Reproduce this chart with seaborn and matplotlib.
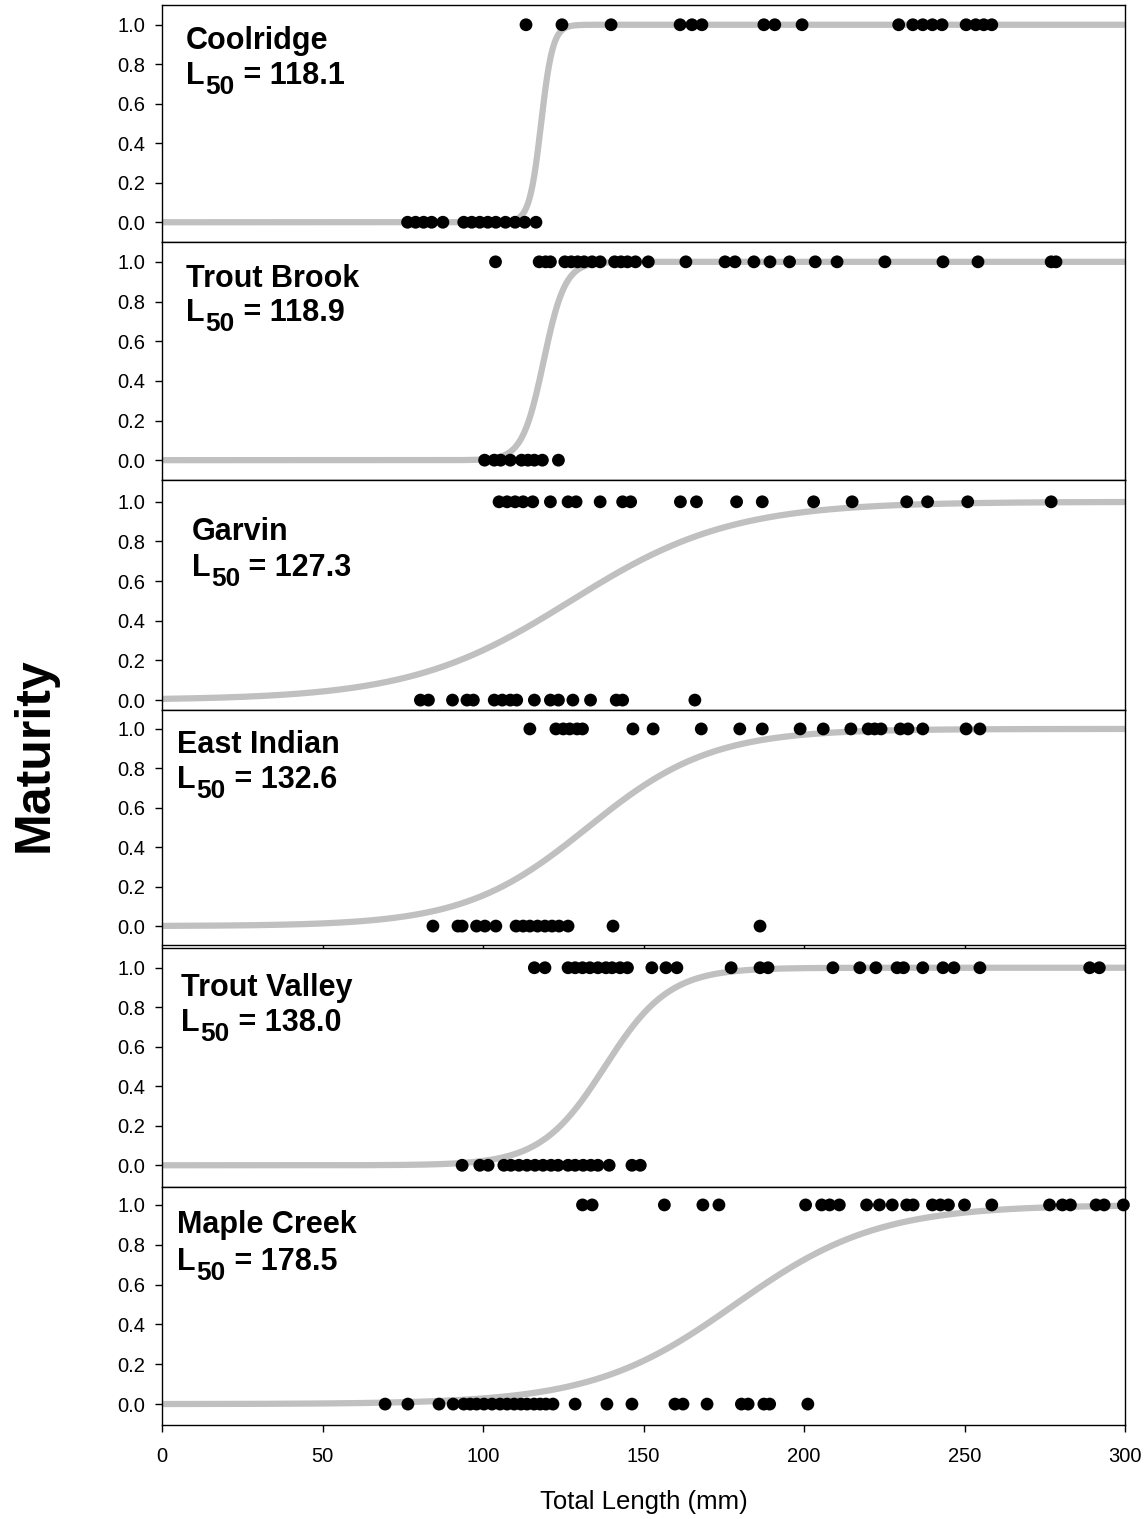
import numpy as np
import pandas as pd
import matplotlib
matplotlib.use("Agg")
import matplotlib.pyplot as plt
import seaborn as sns

# sites, fitted L50 and slope of the logistic maturity curve
SITES = ["Coolridge", "Trout Brook", "Garvin", "East Indian", "Trout Valley", "Maple Creek"]
L50 = [118.1, 118.9, 127.3, 132.6, 138.0, 178.5]
SLOPE = [0.55, 0.30, 0.040, 0.052, 0.100, 0.045]

# observed lengths (mm) of immature (0) and mature (1) fish
coolridge_0 = [76.5, 79, 81.5, 84, 87.5, 94, 96.5, 99, 101.5, 104, 107, 110, 113, 116.5]
coolridge_1 = [113.4, 124.6, 139.9, 161.4, 165.1, 168.2, 187.5, 190.9, 199.4,
               229.5, 233.9, 237, 240, 243, 250.5, 253.5, 256, 258.5]
troutbrook_0 = [100.5, 103.5, 105.5, 108.5, 112, 114, 116, 118.5, 123.5]
troutbrook_1 = [103.9, 117.5, 119.5, 121, 125.5, 127.5, 129.5, 131.5, 134, 136.5,
                141, 143, 145, 147.5, 151.5, 163.2, 175.4, 178.5, 184.4, 189.4,
                195.5, 203.5, 210.3, 225.2, 243.3, 254.2, 277, 278.5]
garvin_0 = [80.5, 83, 90.5, 95, 97, 103.5, 106, 108.5, 110.5, 116, 121, 123.5,
            128, 133.5, 141.5, 143.5, 166]
garvin_1 = [105, 107.5, 110, 112.5, 115.5, 121, 126.5, 129, 136.5, 143.5, 146,
            161.5, 166.5, 179, 187, 203, 215, 232, 238.5, 251, 277]
eastindian_0 = [84.4, 92.2, 93.5, 98, 100.6, 104, 110.3, 112.5, 114.6, 117, 119.3,
                121.5, 123.7, 126.5, 140.5, 186.3]
eastindian_1 = [114.6, 122.7, 125, 127, 129.3, 131, 146.7, 153, 168, 180, 187,
                198.8, 206, 214.6, 220, 222, 224, 230, 232.4, 237, 250.5, 254.8]
troutvalley_0 = [93.5, 99, 101.6, 106.5, 108.7, 111.2, 113.7, 116.2, 118.7, 121.2,
                 123.4, 126.5, 128.7, 131.2, 133.6, 135.8, 139.3, 146.4, 149]
troutvalley_1 = [116, 119.3, 126.5, 128.7, 131, 133.3, 135.8, 138.3, 140.2, 142.7,
                 145, 152.6, 157, 160.4, 177.3, 186.3, 188.8, 209, 217.4, 222.4,
                 229, 231, 237, 243.3, 246.7, 254.8, 289, 292]
maplecreek_0 = [69.5, 76.6, 86.3, 90.7, 94, 96, 98, 100.3, 102.8, 105.3, 107.5,
                109.7, 111.8, 113.7, 115.9, 117.8, 119.6, 121.8, 128.7, 138.6,
                146.4, 159.8, 162.3, 169.8, 180.5, 182.6, 187.5, 189.3, 201.2]
maplecreek_1 = [131, 134, 156.5, 168.5, 173.5, 200.5, 205.5, 208, 211, 219.5, 223.5,
                227.5, 232, 234, 240, 242.5, 245, 250, 258.5, 276.5, 280.5, 283,
                291, 293.5, 299.5]

IMMATURE = [coolridge_0, troutbrook_0, garvin_0, eastindian_0, troutvalley_0, maplecreek_0]
MATURE = [coolridge_1, troutbrook_1, garvin_1, eastindian_1, troutvalley_1, maplecreek_1]

Y_TICKS = [0.0, 0.2, 0.4, 0.6, 0.8, 1.0]
X_TICKS = [0, 50, 100, 150, 200, 250, 300]

W, H = 1147, 1519
TOPS = [5, 242, 480, 710, 948, 1187]
BOTS = [242, 480, 710, 945, 1187, 1425]
YLIMS = [(-0.1, 1.1), (-0.1, 1.1), (-0.05, 1.11), (-0.096, 1.096), (-0.11, 1.1), (-0.105, 1.09)]
# x, centre of site name, bottom of the "L50" line (data units)
LABEL_POS = [(7.5, 0.92, 0.665), (7.5, 0.912, 0.667), (9.3, 0.85, 0.59),
             (4.7, 0.92, 0.665), (5.9, 0.90, 0.645), (4.7, 0.90, 0.638)]

sns.set_style("ticks")
plt.rcParams["font.family"] = ["Liberation Sans", "DejaVu Sans"]
for key in ["text.color", "axes.labelcolor", "xtick.color", "ytick.color", "axes.edgecolor"]:
    plt.rcParams[key] = "black"

fig = plt.figure(figsize=(W / 100, H / 100), dpi=100)
x0, x1 = 162 / W, 1125 / W
xs = np.linspace(0, 300, 601)
LBL = 22

for i, site in enumerate(SITES):
    ax = fig.add_axes([x0, 1 - BOTS[i] / H, x1 - x0, (BOTS[i] - TOPS[i]) / H])
    curve = pd.DataFrame({"x": xs, "p": 1 / (1 + np.exp(-SLOPE[i] * (xs - L50[i])))})
    sns.lineplot(data=curve, x="x", y="p", color="#c0c0c0", lw=4.5, ax=ax, zorder=1)
    pts = pd.DataFrame({"x": IMMATURE[i] + MATURE[i],
                        "y": [0.0] * len(IMMATURE[i]) + [1.0] * len(MATURE[i])})
    sns.scatterplot(data=pts, x="x", y="y", color="black", s=85, edgecolor="none",
                    ax=ax, zorder=3, clip_on=False)
    ax.set_xlim(0, 300)
    ax.set_ylim(*YLIMS[i])
    ax.set_yticks(Y_TICKS)
    ax.set_yticklabels([f"{t:.1f}" for t in Y_TICKS], fontsize=14.5)
    ax.set_xticks(X_TICKS)
    ax.set_xlabel("")
    ax.set_ylabel("")
    ax.tick_params(axis="y", direction="out", length=5, width=1, pad=7)
    if i == len(SITES) - 1:
        ax.set_xticklabels([str(t) for t in X_TICKS], fontsize=14.5)
        ax.tick_params(axis="x", direction="out", length=5, width=1, pad=11)
    elif i == 3:
        ax.tick_params(axis="x", direction="out", length=2.5, width=1, labelbottom=False)
    else:
        ax.tick_params(axis="x", length=0, labelbottom=False)
    for sp in ax.spines.values():
        sp.set_visible(True)
        sp.set_linewidth(1)
        sp.set_color("black")
    tx, ty1, ty2 = LABEL_POS[i]
    ax.text(tx, ty1, site, fontsize=LBL, fontweight="bold", va="center", ha="left")
    # L with a large subscript "50", then the value on the L baseline
    tL = ax.text(tx, ty2, "L", fontsize=LBL, fontweight="bold", va="bottom", ha="left")
    t50 = ax.annotate("50", xy=(1, 0), xycoords=tL, xytext=(0.5, -6),
                      textcoords="offset points", fontsize=19, fontweight="bold",
                      va="bottom", ha="left")
    ax.annotate(" = " + f"{L50[i]:.1f}", xy=(1, 0), xycoords=(t50, tL), xytext=(0, 0),
                textcoords="offset points", fontsize=LBL, fontweight="bold",
                va="bottom", ha="left")

fig.text(35 / W, 1 - 755 / H, "Maturity", rotation=90, fontsize=36,
         fontweight="bold", ha="center", va="center")
fig.text((x0 + x1) / 2, 1 - 1502 / H, "Total Length (mm)", fontsize=18.5,
         ha="center", va="center")

fig.savefig("out.png", dpi=100)
